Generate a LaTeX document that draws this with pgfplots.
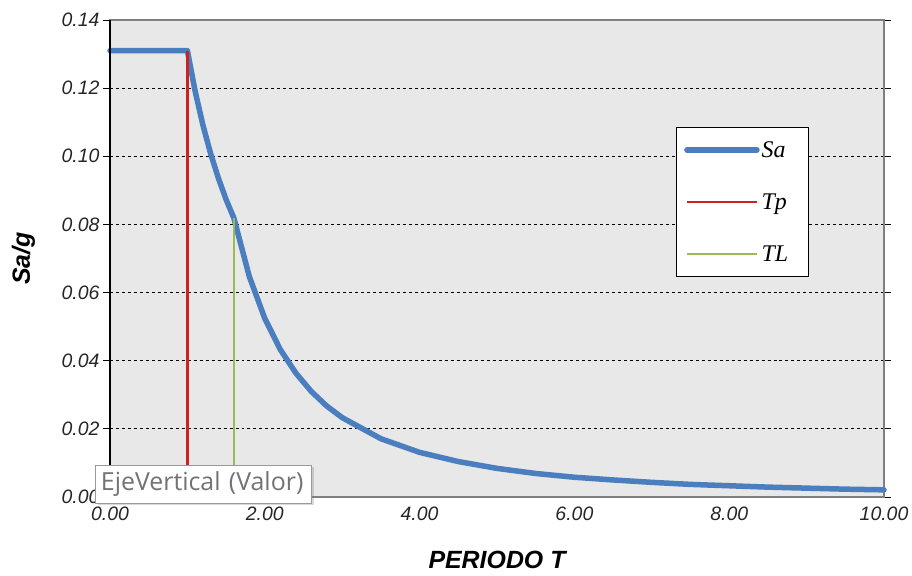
\documentclass[border=0pt]{standalone}
\usepackage{pgfplots}
\pgfplotsset{compat=1.18}
\usepackage{fontspec}
\setmainfont{Liberation Sans}
\newfontfamily\serifit{Liberation Serif}
\newfontfamily\tipfont{Open Sans}
\usetikzlibrary{shadows}
\definecolor{sablue}{HTML}{4A7EBE}
\definecolor{tpred}{HTML}{D02020}
\definecolor{tlgreen}{HTML}{9BBB59}
\definecolor{bgfill}{HTML}{E8E8E8}
\begin{document}
\begin{tikzpicture}
\path[use as bounding box] (-110bp,-79bp) rectangle (802bp,497bp);
\begin{axis}[
  at={(0,0)}, anchor=south west,
  scale only axis, width=774bp, height=477bp,
  xmin=0, xmax=10, ymin=0, ymax=0.14,
  clip=false,
  axis background/.style={fill=bgfill},
  axis line style={draw=gray, line width=1.5bp},
  xtick={0,2,4,6,8,10},
  ytick={0,0.02,0.04,0.06,0.08,0.10,0.12,0.14},
  xtick style={draw=none},
  ytick style={black, line width=0.8bp},
  ytick align=outside, major tick length=7bp,
  ymajorgrids, grid style={black, dashed, line width=0.8bp},
  /pgf/number format/assume math mode=true,
  /pgf/number format/.cd, fixed, fixed zerofill, precision=2, /pgfplots/.cd,
  scaled y ticks=false,
  tick label style={font=\fontsize{19.5}{22}\selectfont\itshape, text=black!85},
  xticklabel style={yshift=-6bp},
  yticklabel style={xshift=0bp},
  xlabel={PERIODO T},
  ylabel={Sa/g},
  xlabel style={at={(axis description cs:0.5,-0.132)}, anchor=center, font=\fontsize{25}{28}\selectfont\bfseries\itshape},
  ylabel style={at={(axis description cs:-0.112,0.5)}, anchor=center, font=\fontsize{25}{28}\selectfont\bfseries\itshape},
  legend style={draw=black, line width=0.8bp, fill=white, at={(rel axis cs:0.731,0.776)}, anchor=north west,
    inner xsep=8bp, inner ysep=12bp, row sep=31bp, font=\fontsize{24}{26}\selectfont\serifit\itshape,
    nodes={inner sep=2bp}, text width=37bp},
  legend cell align=left,
  legend image code/.code={\draw[#1] (0bp,0bp) -- (70bp,0bp);},
]
\addplot[sablue, line width=5.5bp, line cap=round, line join=round] coordinates {
(0,0.131) (1.0,0.131) (1.1,0.1191) (1.2,0.1092) (1.3,0.1008) (1.4,0.0936) (1.5,0.0873) (1.6,0.0819)
(1.8,0.0647) (2.0,0.0524) (2.2,0.0433) (2.4,0.0364) (2.6,0.0310) (2.8,0.0267) (3.0,0.0233)
(3.5,0.0171) (4.0,0.0131) (4.5,0.0104) (5.0,0.0084) (5.5,0.0069) (6.0,0.0058) (6.5,0.0050)
(7.0,0.0043) (7.5,0.0037) (8.0,0.0033) (8.5,0.0029) (9.0,0.0026) (9.5,0.0023) (10.0,0.0021)};
\addlegendentry{Sa}
\addplot[tpred, line width=2.4bp] coordinates {(1.0,0) (1.0,0.131)};
\addlegendentry{Tp}
\addplot[tlgreen, line width=2.4bp] coordinates {(1.6,0) (1.6,0.082)};
\addlegendentry{TL}
\draw[black, line width=1.2bp] (rel axis cs:0,0) -- (rel axis cs:0,1);
\node[draw=gray!80, fill=white, line width=1bp, drop shadow={opacity=0.3, shadow xshift=2bp, shadow yshift=-2bp},
  minimum width=216bp, minimum height=38bp, text width=206bp, align=left, inner xsep=5bp,
  font=\fontsize{25}{27}\selectfont\tipfont, text=gray!90!black]
  at (axis cs:1.214,0.0038) {EjeVertical (Valor)};
\end{axis}
\end{tikzpicture}
\end{document}
